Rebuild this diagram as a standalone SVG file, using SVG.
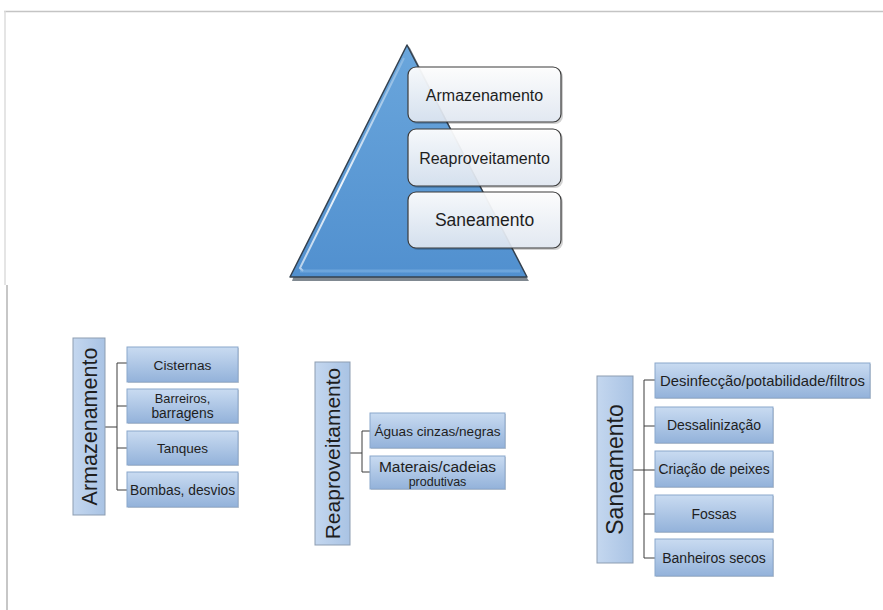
<svg xmlns="http://www.w3.org/2000/svg" width="883" height="610" viewBox="0 0 883 610">
<defs>
<linearGradient id="tri" x1="0" y1="0" x2="0" y2="1"><stop offset="0" stop-color="#6aa6dc"/><stop offset="1" stop-color="#5190cf"/></linearGradient>
<linearGradient id="wbox" x1="0" y1="0" x2="0" y2="1"><stop offset="0" stop-color="#ffffff" stop-opacity="0.95"/><stop offset="1" stop-color="#e4ebf5" stop-opacity="0.9"/></linearGradient>
<linearGradient id="cbox" x1="0" y1="0" x2="0" y2="1"><stop offset="0" stop-color="#c9dbf1"/><stop offset="1" stop-color="#93b2da"/></linearGradient>
<linearGradient id="vbox" x1="0" y1="0" x2="1" y2="0"><stop offset="0" stop-color="#c4d7ef"/><stop offset="1" stop-color="#a9c3e4"/></linearGradient>
<linearGradient id="hl" x1="0" y1="0" x2="0" y2="1"><stop offset="0" stop-color="#ffffff" stop-opacity="0.2"/><stop offset="0.6" stop-color="#ffffff" stop-opacity="0.9"/><stop offset="1" stop-color="#ffffff" stop-opacity="0.6"/></linearGradient>
</defs>
<style>
text{font-family:"Liberation Sans",Arial,sans-serif;fill:#1e1e1e;text-anchor:middle}
.wb{fill:url(#wbox);stroke:#3a3a3a;stroke-width:1.2}
.sh{fill:#000;opacity:0.18}
.cb{fill:url(#cbox);stroke:#8aa7cc;stroke-width:1}
.vb{fill:url(#vbox);stroke:#8d9db1;stroke-width:1}
.ln{fill:none;stroke:#3c3c3c;stroke-width:1}
</style>
<rect width="883" height="610" fill="#ffffff"/>
<g id="frame">
<line x1="4" y1="11.5" x2="883" y2="11.5" stroke="#c4c4c4" stroke-width="1.5"/>
<line x1="5" y1="11" x2="5" y2="285" stroke="#dcdcdc" stroke-width="1.5"/>
<line x1="7" y1="285" x2="7" y2="610" stroke="#b4b4b4" stroke-width="1.5"/>
</g>
<g id="pyramid">
<polygon points="291,279 528,279 526,276 409,46 407,44 405,46 292,276" fill="#2c3a48" opacity="0.6" transform="translate(1,2)"/>
<polygon points="407,45 527,277 290,277" fill="url(#tri)" stroke="#34414f" stroke-width="1.5" stroke-linejoin="round"/>
<polyline points="404,58 300,268 303,271" fill="none" stroke="url(#hl)" stroke-width="2"/>
<line x1="300" y1="271" x2="520" y2="271" stroke="#7fb3e3" stroke-width="3" opacity="0.6"/>
</g>
<g id="level-armazenamento">
<rect class="sh" x="410" y="69" width="153" height="55" rx="8"/>
<rect class="wb" x="408" y="67" width="153" height="55" rx="8"/>
<text x="484.5" y="100.5" font-size="16">Armazenamento</text>
</g>
<g id="level-reaproveitamento">
<rect class="sh" x="410" y="131" width="153" height="57" rx="8"/>
<rect class="wb" x="408" y="129" width="153" height="57" rx="8"/>
<text x="484.5" y="163.5" font-size="16">Reaproveitamento</text>
</g>
<g id="level-saneamento">
<rect class="sh" x="410" y="194" width="153" height="56" rx="8"/>
<rect class="wb" x="408" y="192" width="153" height="56" rx="8"/>
<text x="484.5" y="226" font-size="17.5">Saneamento</text>
</g>
<g id="connectors">
<path class="ln" d="M105,427 H117 M117,363 V490 M117,363 H127 M117,406 H127 M117,448 H127 M117,490 H127"/>
<path class="ln" d="M350,453 H362 M362,431 V472 M362,431 H370 M362,472 H370"/>
<path class="ln" d="M633,470 H655 M644,380 V558 M644,380 H655 M644,426 H655 M644,514 H655 M644,558 H655"/>
</g>
<g id="armazenamento">
<rect class="vb" x="73" y="338" width="32" height="177"/>
<text transform="translate(96.5,426.5) rotate(-90)" font-size="21.5">Armazenamento</text>
</g>
<g id="cisternas"><rect class="sh" x="128" y="348" width="111" height="35"/><rect class="cb" x="127" y="347" width="111" height="35"/><text x="182.5" y="369.5" font-size="13.7">Cisternas</text></g>
<g id="barreiros"><rect class="sh" x="128" y="390" width="111" height="34"/><rect class="cb" x="127" y="389" width="111" height="34"/><text x="182.5" y="402.5" font-size="12.8">Barreiros,</text><text x="182.5" y="418" font-size="13.8">barragens</text></g>
<g id="tanques"><rect class="sh" x="128" y="432" width="111" height="34"/><rect class="cb" x="127" y="431" width="111" height="34"/><text x="182.5" y="453" font-size="13.5">Tanques</text></g>
<g id="bombas"><rect class="sh" x="128" y="473" width="111" height="35"/><rect class="cb" x="127" y="472" width="111" height="35"/><text x="182.5" y="494.5" font-size="13.8">Bombas, desvios</text></g>
<g id="reaproveitamento">
<rect class="vb" x="315" y="362" width="35" height="183"/>
<text transform="translate(340,453.5) rotate(-90)" font-size="21">Reaproveitamento</text>
</g>
<g id="aguas"><rect class="sh" x="371" y="414" width="135" height="35"/><rect class="cb" x="370" y="413" width="135" height="35"/><text x="437.5" y="435.5" font-size="13.6">Águas cinzas/negras</text></g>
<g id="materais"><rect class="sh" x="371" y="457" width="135" height="33"/><rect class="cb" x="370" y="456" width="135" height="33"/><text x="437.5" y="471.5" font-size="15.5">Materais/cadeias</text><text x="437.5" y="486" font-size="12.5">produtivas</text></g>
<g id="saneamento">
<rect class="vb" x="597" y="376" width="36" height="187"/>
<text transform="translate(623,469.5) rotate(-90)" font-size="23">Saneamento</text>
</g>
<g id="desinfeccao"><rect class="sh" x="656" y="364" width="215" height="35"/><rect class="cb" x="655" y="363" width="215" height="35"/><text x="762.5" y="385.5" font-size="14.8">Desinfecção/potabilidade/filtros</text></g>
<g id="dessalinizacao"><rect class="sh" x="656" y="408" width="118" height="36"/><rect class="cb" x="655" y="407" width="118" height="36"/><text x="714" y="430" font-size="14">Dessalinização</text></g>
<g id="criacao"><rect class="sh" x="656" y="452" width="118" height="36"/><rect class="cb" x="655" y="451" width="118" height="36"/><text x="714" y="474" font-size="13.9">Criação de peixes</text></g>
<g id="fossas"><rect class="sh" x="656" y="496" width="118" height="37"/><rect class="cb" x="655" y="495" width="118" height="37"/><text x="714" y="518.5" font-size="14">Fossas</text></g>
<g id="banheiros"><rect class="sh" x="656" y="540" width="118" height="37"/><rect class="cb" x="655" y="539" width="118" height="37"/><text x="714" y="562.5" font-size="14">Banheiros secos</text></g>
</svg>
